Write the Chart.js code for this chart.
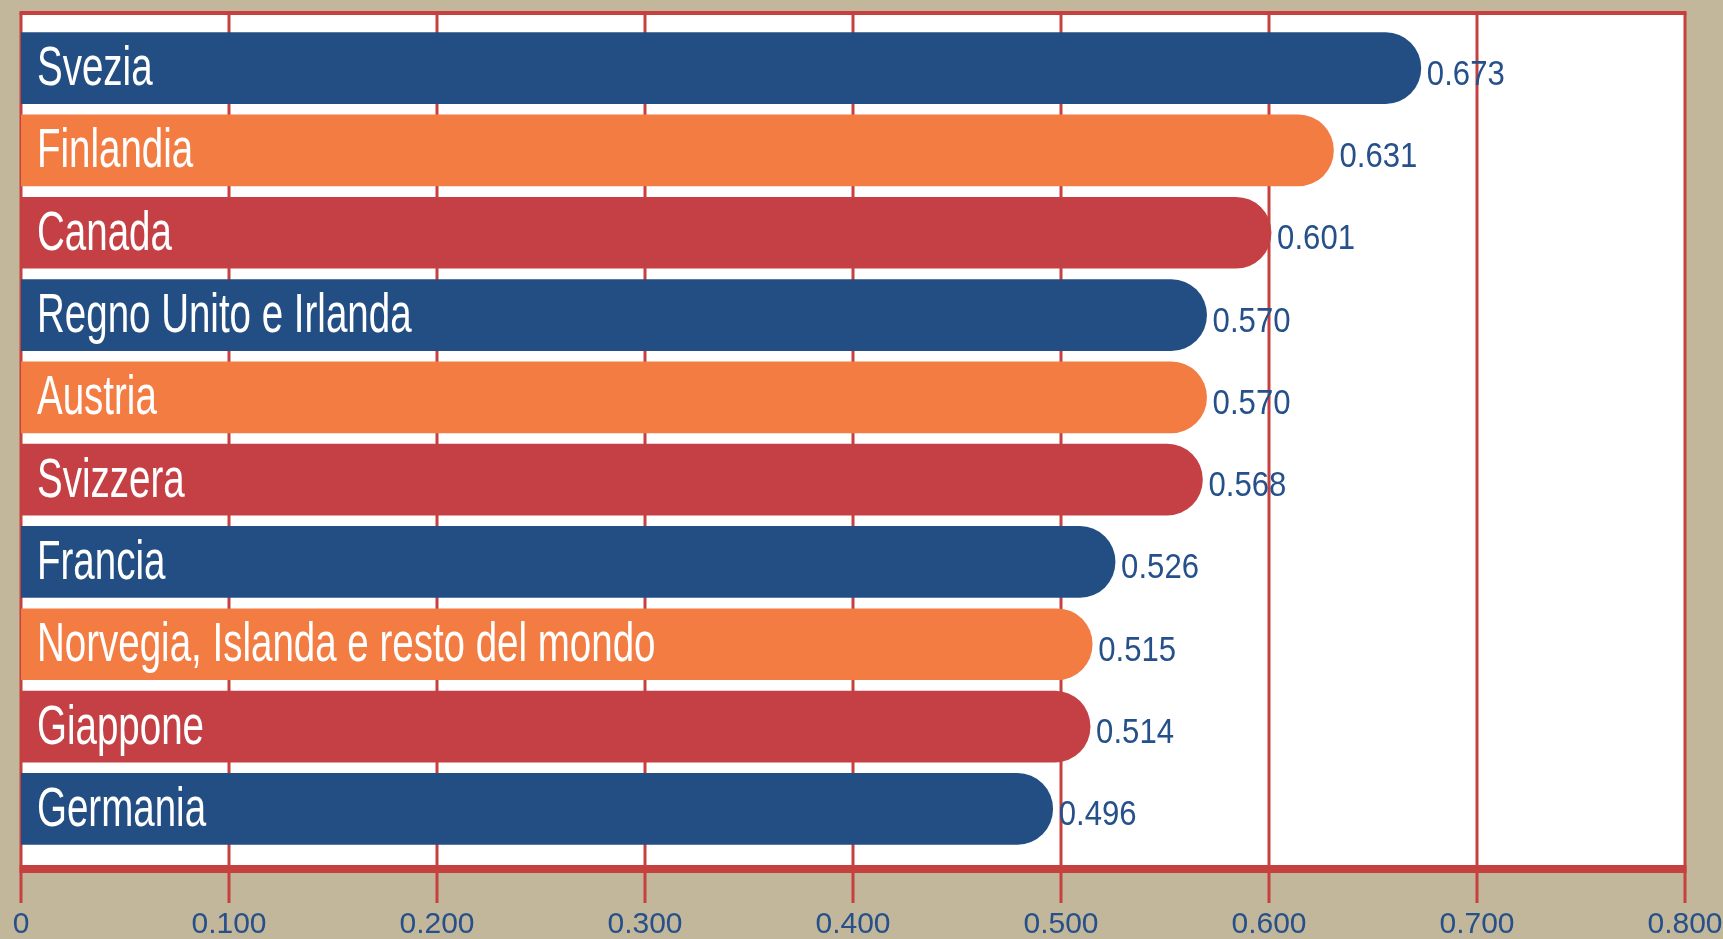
<!DOCTYPE html>
<html>
<head>
<meta charset="utf-8">
<script src="https://cdn.jsdelivr.net/npm/chart.js@4/dist/chart.umd.min.js"></script>
<style>
html,body{margin:0;padding:0;background:#c2b69b}
#wrap{width:1723px;height:939px;position:relative}
</style>
</head>
<body>
<div id="wrap"><canvas id="paesiChart"></canvas></div>
<script>
// paesi e punteggi
const paesi=["Svezia","Finlandia","Canada","Regno Unito e Irlanda","Austria","Svizzera","Francia","Norvegia, Islanda e resto del mondo","Giappone","Germania"]
const punteggi=[0.673,0.631,0.601,0.570,0.570,0.568,0.526,0.515,0.514,0.496]
const xMin=0
const xMax=0.8
const xStep=0.1

// colori
const BEIGE="#c2b69b"
const ROSSO="#c6403f"
const BLU_TESTO="#25508a"
const palette=["#224e83","#f27c42","#c44045"]

const frame={
id:"frame",
beforeDraw(chart){
const ctx=chart.ctx
const x=chart.scales.x
const area=chart.chartArea
const left=x.getPixelForValue(xMin)
const right=x.getPixelForValue(xMax)
const top=area.top-14
const axisY=area.bottom+19
ctx.save()
ctx.fillStyle=BEIGE
ctx.fillRect(0,0,chart.width,chart.height)
ctx.fillStyle="#ffffff"
ctx.fillRect(left,top,right-left,axisY-top)
ctx.strokeStyle=ROSSO
ctx.lineWidth=3
// linee verticali, prolungate sotto l'asse come tacche
x.ticks.forEach(t=>{
const px=x.getPixelForValue(t.value)
ctx.beginPath()
ctx.moveTo(px,top)
ctx.lineTo(px,area.bottom+53)
ctx.stroke()
})
ctx.lineWidth=4
ctx.beginPath()
ctx.moveTo(left-1.5,top)
ctx.lineTo(right+1.5,top)
ctx.stroke()
ctx.lineWidth=8
ctx.beginPath()
ctx.moveTo(left-1.5,axisY)
ctx.lineTo(right+1.5,axisY)
ctx.stroke()
ctx.restore()
}
}

const etichette={
id:"etichette",
afterDatasetsDraw(chart){
const ctx=chart.ctx
const meta=chart.getDatasetMeta(0)
ctx.save()
meta.data.forEach((bar,i)=>{
// nome del paese dentro la barra
ctx.save()
ctx.translate(chart.chartArea.left+16,bar.y+17)
ctx.scale(0.7,1)
ctx.fillStyle="#ffffff"
ctx.font="55px 'Liberation Sans', Arial, sans-serif"
ctx.textBaseline="alphabetic"
ctx.fillText(paesi[i],0,0)
ctx.restore()
// valore a destra della barra
ctx.save()
ctx.translate(bar.x+6,bar.y+16.5)
ctx.scale(0.89,1)
ctx.fillStyle=BLU_TESTO
ctx.font="35px 'Liberation Sans', Arial, sans-serif"
ctx.textBaseline="alphabetic"
ctx.fillText(punteggi[i].toFixed(3),0,0)
ctx.restore()
})
ctx.restore()
}
}

new Chart(document.getElementById("paesiChart"),{
type:"bar",
data:{
labels:paesi,
datasets:[{
data:punteggi,
backgroundColor:paesi.map((p,i)=>palette[i%3]),
borderRadius:40,
borderSkipped:"start",
barThickness:71
}]
},
options:{
indexAxis:"y",
responsive:true,
maintainAspectRatio:false,
animation:false,
layout:{padding:{top:27,left:21,right:38,bottom:0}},
plugins:{legend:{display:false},tooltip:{enabled:false}},
scales:{
y:{display:false},
x:{
type:"linear",
min:xMin,
max:xMax,
// tacche invisibili: servono solo a spostare le etichette in basso
grid:{display:false,drawTicks:true,tickLength:57},
border:{display:false},
afterFit(s){s.height=89},
ticks:{
stepSize:xStep,
padding:0,
color:BLU_TESTO,
font:{family:"'Liberation Sans', sans-serif",size:30},
callback:v=>v===0?"0":v.toFixed(3)
}
}
}
},
plugins:[frame,etichette]
})
</script>
</body>
</html>
